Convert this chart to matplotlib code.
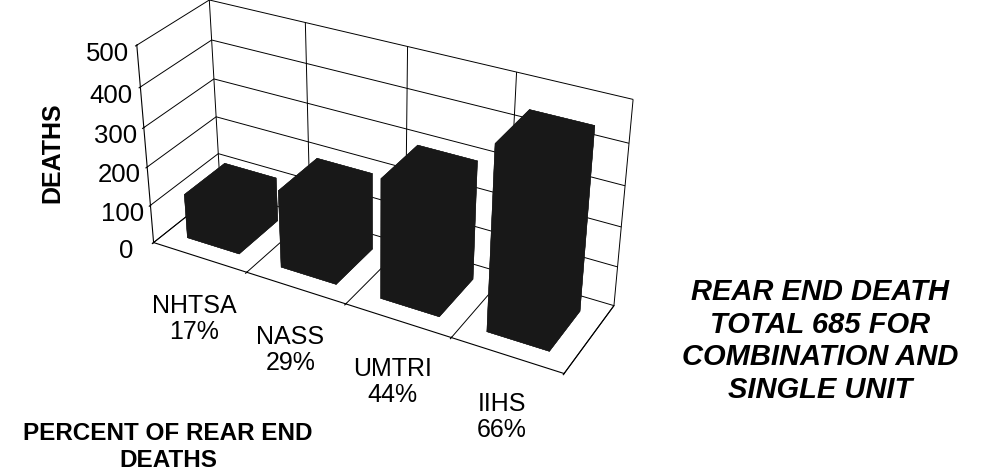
import matplotlib.pyplot as plt
import numpy as np
from mpl_toolkits.mplot3d import proj3d

agencies = ['NHTSA', 'NASS', 'UMTRI', 'IIHS']
percents = ['17%', '29%', '44%', '66%']
deaths = [116, 199, 301, 452]
z_ticks = [0, 100, 200, 300, 400, 500]

plt.rcParams['font.family'] = ['Liberation Sans', 'DejaVu Sans']
plt.rcParams['grid.color'] = 'black'
plt.rcParams['grid.linewidth'] = 0.7

W, H = 983, 475
fig = plt.figure(figsize=(W / 100, H / 100), dpi=100)

# camera fitted to the corners of the original box
ax = fig.add_axes([0.1323, 0.1106, 0.4882, 1.0104], projection='3d')
ax.set_xlim(0, 4)
ax.set_ylim(0, 1)
ax.set_zlim(0, 500)
ax.view_init(elev=30.04, azim=-61.07)
ax.set_proj_type('persp', focal_length=0.599)
ax.set_box_aspect((3.718, 1, 1.823), zoom=1.1)

xs = np.arange(len(deaths))
bw, bd = 0.56, 0.6
ax.bar3d(xs + (1 - bw) / 2, np.full(len(xs), (1 - bd) / 2), np.zeros(len(xs)),
         bw, bd, deaths, color='#181818', shade=False,
         edgecolor='#181818', linewidth=0.3)

ax.set_xticks(range(5))
ax.set_xticklabels([])
ax.set_yticks([])
ax.set_zticks(z_ticks)
ax.set_zticklabels([str(t) for t in z_ticks], fontsize=18.5)
ax.zaxis.set_ticks_position('lower')

for axis in (ax.xaxis, ax.yaxis, ax.zaxis):
    axis.set_pane_color('white')
    axis.line.set_color('black')
    axis.line.set_linewidth(0.8)

# category labels hang below the front edge of the floor
M = ax.get_proj()
for i, (a, p) in enumerate(zip(agencies, percents)):
    px, py, _ = proj3d.proj_transform(i + 0.5, 0, 0, M)
    ax.annotate(f'{a}\n{p}', (px, py), xytext=(-5, -37), textcoords='offset pixels',
                ha='center', va='top', fontsize=18, linespacing=1.1)

fig.text(52 / W, 1 - 153 / H, 'DEATHS', rotation=90, ha='center', va='center',
         fontsize=18, fontweight='bold')
fig.text(168 / W, 3 / H, 'PERCENT OF REAR END\nDEATHS', ha='center', va='bottom',
         fontsize=17.5, fontweight='bold', linespacing=1.2)
fig.text(820 / W, 1 - 341 / H, 'REAR END DEATH\nTOTAL 685 FOR\nCOMBINATION AND\nSINGLE UNIT',
         ha='center', va='center', fontsize=21, fontweight='bold', fontstyle='italic',
         linespacing=1.22)

fig.savefig('out.png', dpi=100)
